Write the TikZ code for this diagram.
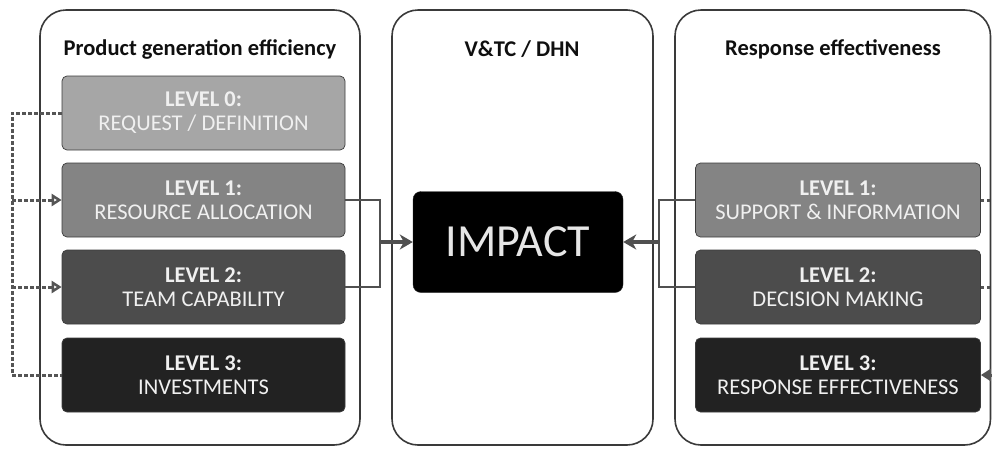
\documentclass[tikz,border=0pt]{standalone}
\usepackage{fontspec}
\setmainfont{Carlito}
\usetikzlibrary{arrows.meta}

\begin{document}
\begin{tikzpicture}[x=1pt,y=1pt,yscale=-1,xscale=1,
  panel/.style={draw={rgb, 255:red, 58; green, 58; blue, 58 }, line width=1.6pt, rounded corners=26pt},
  paneltitle/.style={font=\fontsize{22.5}{26}\selectfont\bfseries, text={rgb, 255:red, 15; green, 15; blue, 15 }},
  levelbox/.style={draw={rgb, 255:red, 60; green, 60; blue, 60 }, line width=0.7pt, rounded corners=5pt, minimum height=74pt, align=center, font=\fontsize{22.5}{24}\selectfont, text={rgb, 255:red, 240; green, 240; blue, 240 }},
  conn/.style={draw={rgb, 255:red, 80; green, 80; blue, 80 }, line width=2.4pt},
  connarrow/.style={conn, line width=3.2pt, -{Stealth[length=13pt, width=15pt, inset=4pt]}},
  dots/.style={draw={rgb, 255:red, 85; green, 85; blue, 85 }, line width=3pt, dash pattern=on 3.5pt off 2.5pt}
]
\useasboundingbox (0,0) rectangle (992,448);

%Shape: Rounded Rect - panels
\draw [panel] (40,10) rectangle (360,445) ;
\draw [panel] (392,10) rectangle (653,445) ;
\draw [panel] (675,10) rectangle (990.5,445) ;

%Panel titles
\node [paneltitle] (ltitle) at (200,49) {Product generation efficiency};
\node [paneltitle] (mtitle) at (522,49) {V\&TC / DHN};
\node [paneltitle] (rtitle) at (833,49) {Response effectiveness};

%Shape: Rounded Rect - left levels
\node [levelbox, minimum width=283pt, fill={rgb, 255:red, 166; green, 166; blue, 166 }] (l0) at (203.5,113) {\textbf{LEVEL 0:}\\REQUEST / DEFINITION};
\node [levelbox, minimum width=283pt, fill={rgb, 255:red, 132; green, 132; blue, 132 }] (l1) at (203.5,200) {\textbf{LEVEL 1:}\\RESOURCE ALLOCATION};
\node [levelbox, minimum width=283pt, fill={rgb, 255:red, 76; green, 76; blue, 76 }] (l2) at (203.5,287) {\textbf{LEVEL 2:}\\TEAM CAPABILITY};
\node [levelbox, minimum width=283pt, fill={rgb, 255:red, 34; green, 34; blue, 34 }] (l3) at (203.5,375) {\textbf{LEVEL 3:}\\INVESTMENTS};

%Shape: Rounded Rect - right levels
\node [levelbox, minimum width=285pt, fill={rgb, 255:red, 132; green, 132; blue, 132 }] (r1) at (838,200) {\textbf{LEVEL 1:}\\SUPPORT \& INFORMATION};
\node [levelbox, minimum width=285pt, fill={rgb, 255:red, 76; green, 76; blue, 76 }] (r2) at (838,287) {\textbf{LEVEL 2:}\\DECISION MAKING};
\node [levelbox, minimum width=285pt, fill={rgb, 255:red, 34; green, 34; blue, 34 }] (r3) at (838,375) {\textbf{LEVEL 3:}\\RESPONSE EFFECTIVENESS};

%Shape: Rounded Rect - impact
\node [draw={rgb, 255:red, 40; green, 40; blue, 40 }, fill=black, rounded corners=8pt, minimum width=210pt, minimum height=101pt, font=\fontsize{46}{50}\selectfont, text={rgb, 255:red, 230; green, 230; blue, 230 }] (impact) at (518,242) {IMPACT};

%Junctions
\coordinate (lj) at (380,242);
\coordinate (rj) at (659,242);
\coordinate (lx) at (12,250);
\coordinate (rx) at (993,250);

%Straight Lines - solid connectors
\draw [conn] (l1.east) -| (lj) |- (l2.east) ;
\draw [connarrow] (lj) -- (impact.west) ;
\draw [conn] (r1.west) -| (rj) |- (r2.west) ;
\draw [connarrow] (rj) -- (impact.east) ;

%Straight Lines - dotted feedback
\draw [dots] (l0.west) -| (lx) |- (l3.west) ;
\draw [dots, -{Triangle[open, length=10pt, width=12pt]}] (lx |- l1.west) -- (l1.west) ;
\draw [dots, -{Triangle[open, length=10pt, width=12pt]}] (lx |- l2.west) -- (l2.west) ;
\draw [dots] (r1.east) -- (r1.east -| rx) ;
\draw [dots] (r2.east) -- (r2.east -| rx) ;
\draw [dots, -{Triangle[length=10pt, width=12pt]}] (r3.east -| rx) -- (r3.east) ;
\end{tikzpicture}
\end{document}
